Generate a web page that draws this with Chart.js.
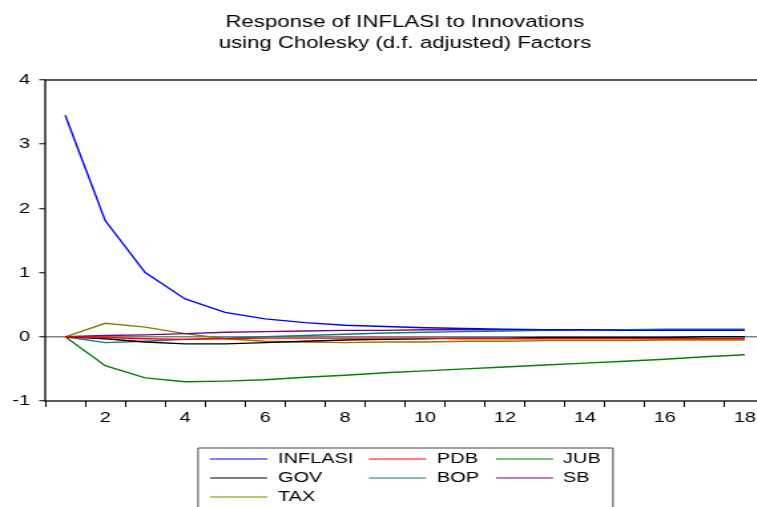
<!DOCTYPE html>
<html>
<head>
<meta charset="utf-8">
<script src="https://cdn.jsdelivr.net/npm/chart.js@4/dist/chart.umd.min.js"></script>
<style>
  html, body { margin: 0; padding: 0; overflow: hidden; background: #fff; width: 757px; height: 507px; }
  /* the graph is laid out narrow and widened horizontally, like the exported EViews figure */
  #wrap { position: absolute; left: 0; top: 0; width: 580px; height: 507px; transform: scaleX(1.33); transform-origin: 0 0; }
  canvas { display: block; }
</style>
</head>
<body>
<div id="wrap"><canvas id="irf" width="580" height="507"></canvas></div>
<script>
// Impulse response periods
const periods = ['1','2','3','4','5','6','7','8','9','10','11','12','13','14','15','16','17','18'];

// Response of INFLASI to a one S.D. innovation in each variable
const inflasi = [3.45, 1.81, 1.00, 0.59, 0.38, 0.28, 0.22, 0.18, 0.16, 0.14, 0.13, 0.12, 0.11, 0.11, 0.10, 0.10, 0.10, 0.10];
const pdb     = [0.00, -0.01, -0.03, -0.04, -0.03, -0.02, -0.02, -0.02, -0.02, -0.02, -0.03, -0.03, -0.03, -0.03, -0.03, -0.03, -0.03, -0.03];
const jub     = [0.00, -0.45, -0.64, -0.70, -0.69, -0.67, -0.63, -0.60, -0.56, -0.53, -0.50, -0.47, -0.44, -0.41, -0.38, -0.35, -0.31, -0.28];
const gov     = [0.00, -0.03, -0.08, -0.11, -0.11, -0.09, -0.07, -0.05, -0.04, -0.03, -0.02, -0.02, -0.01, -0.01, -0.01, -0.01, 0.00, 0.00];
const bop     = [0.00, -0.09, -0.07, -0.04, -0.02, 0.00, 0.02, 0.04, 0.06, 0.07, 0.08, 0.09, 0.10, 0.11, 0.11, 0.12, 0.12, 0.12];
const sb      = [0.00, 0.02, 0.03, 0.05, 0.07, 0.08, 0.09, 0.10, 0.10, 0.11, 0.11, 0.11, 0.11, 0.11, 0.11, 0.11, 0.11, 0.11];
const tax     = [0.00, 0.21, 0.15, 0.05, -0.03, -0.07, -0.08, -0.09, -0.08, -0.08, -0.07, -0.07, -0.06, -0.06, -0.06, -0.05, -0.05, -0.05];

// Y axis tick values
const yTicks = [-1, 0, 1, 2, 3, 4];

const titleLines = ['Response of INFLASI to Innovations', 'using Cholesky (d.f. adjusted) Factors'];

const FONT = '"Liberation Sans", Arial, Helvetica, sans-serif';
Chart.defaults.font.family = FONT;
Chart.defaults.color = '#000';

const series = [
  { label: 'INFLASI', data: inflasi, color: '#0000ff' },
  { label: 'PDB',     data: pdb,     color: '#ff0000' },
  { label: 'JUB',     data: jub,     color: '#008000' },
  { label: 'GOV',     data: gov,     color: '#000000' },
  { label: 'BOP',     data: bop,     color: '#008080' },
  { label: 'SB',      data: sb,      color: '#800080' },
  { label: 'TAX',     data: tax,     color: '#808000' }
];

// Two-line heading centred over the plot
const headingPlugin = {
  id: 'heading',
  afterDraw(chart) {
    const { ctx, chartArea } = chart;
    const cx = (chartArea.left + chartArea.right) / 2;
    ctx.save();
    ctx.fillStyle = '#000';
    ctx.font = '16.7px ' + FONT;
    ctx.textAlign = 'center';
    ctx.textBaseline = 'middle';
    ctx.fillText(titleLines[0], cx, 22);
    ctx.fillText(titleLines[1], cx, 43);
    ctx.restore();
  }
};

// Box around the plotting area
const framePlugin = {
  id: 'frame',
  afterDatasetsDraw(chart) {
    const { ctx, chartArea } = chart;
    ctx.save();
    ctx.strokeStyle = '#000';
    ctx.lineWidth = 1.3;
    ctx.strokeRect(chartArea.left, chartArea.top, chartArea.right - chartArea.left, chartArea.bottom - chartArea.top);
    ctx.restore();
  }
};

// Boxed three-column legend below the x axis
const boxLegendPlugin = {
  id: 'boxLegend',
  afterDraw(chart) {
    const { ctx } = chart;
    const boxL = 148.9, boxR = 460.9, boxT = 448;
    const colLine = [157.9, 277.4, 372.9];
    const lineLen = 43;
    const colText = [209, 328.6, 423.3];
    const rowY = [459, 478, 497];
    ctx.save();
    ctx.strokeStyle = '#444';
    ctx.lineWidth = 1;
    ctx.beginPath();
    ctx.moveTo(boxL, 520);
    ctx.lineTo(boxL, boxT);
    ctx.lineTo(boxR, boxT);
    ctx.lineTo(boxR, 520);
    ctx.stroke();
    ctx.font = '15px ' + FONT;
    ctx.textAlign = 'left';
    ctx.textBaseline = 'middle';
    chart.data.datasets.forEach((ds, i) => {
      const r = Math.floor(i / 3), c = i % 3;
      const y = rowY[r];
      ctx.strokeStyle = ds.borderColor;
      ctx.lineWidth = 1.2;
      ctx.beginPath();
      ctx.moveTo(colLine[c], y);
      ctx.lineTo(colLine[c] + lineLen, y);
      ctx.stroke();
      ctx.fillStyle = '#000';
      ctx.fillText(ds.label, colText[c], y);
    });
    ctx.restore();
  }
};

new Chart(document.getElementById('irf'), {
  type: 'line',
  data: {
    labels: periods,
    datasets: series.map(s => ({
      label: s.label,
      data: s.data,
      borderColor: s.color,
      backgroundColor: s.color,
      borderWidth: 1.4,
      pointRadius: 0,
      tension: 0,
      fill: false
    }))
  },
  options: {
    responsive: false,
    animation: false,
    events: [],
    layout: { padding: { top: 80, bottom: 76, left: 0, right: 5 } },
    plugins: {
      legend: { display: false },
      title: { display: false },
      tooltip: { enabled: false }
    },
    scales: {
      x: {
        type: 'category',
        offset: true,
        border: { display: false },
        grid: {
          offset: true,
          drawOnChartArea: false,
          drawTicks: true,
          tickLength: 6,
          tickColor: '#000',
          tickWidth: 1
        },
        ticks: {
          autoSkip: false,
          maxRotation: 0,
          padding: 2,
          font: { size: 15 },
          color: '#000',
          callback: (v, i) => (i % 2 === 1 ? periods[i] : '')
        },
        afterFit: s => { s.height = 30; }
      },
      y: {
        min: yTicks[0],
        max: yTicks[yTicks.length - 1],
        border: { display: false },
        afterBuildTicks: s => { s.ticks = yTicks.map(v => ({ value: v })); },
        grid: {
          color: c => (c.tick && c.tick.value === 0 ? '#808080' : 'rgba(0,0,0,0)'),
          lineWidth: 1.5,
          drawTicks: true,
          tickLength: 4.5,
          tickColor: '#000',
          tickWidth: 1
        },
        ticks: {
          padding: 6.8,
          font: { size: 15 },
          color: '#000',
          callback: v => String(v)
        },
        afterFit: s => { s.width = 34; }
      }
    }
  },
  plugins: [headingPlugin, framePlugin, boxLegendPlugin]
});
</script>
</body>
</html>
